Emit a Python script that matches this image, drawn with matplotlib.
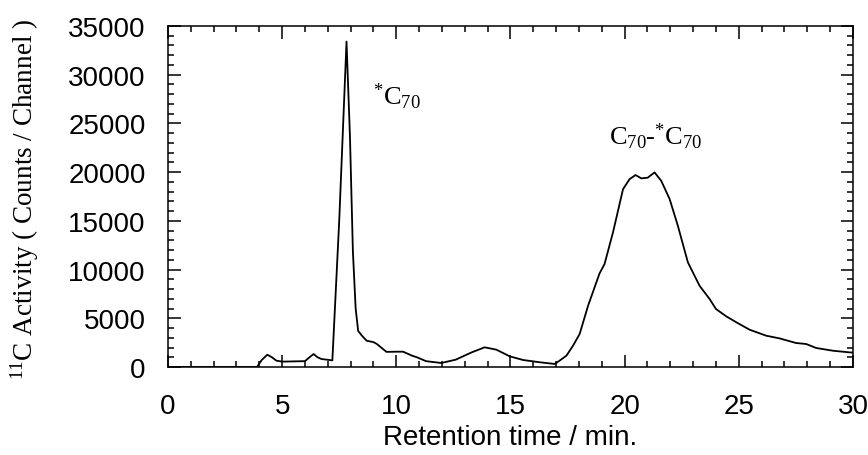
import matplotlib
matplotlib.use("Agg")
import matplotlib.pyplot as plt
from matplotlib.ticker import MultipleLocator

# retention time (min) and 11C activity (counts / channel)
time_min = [0.0, 3.9, 4.1, 4.35, 4.55, 4.75, 5.0, 6.0, 6.2, 6.38, 6.55, 6.72,
            7.2, 7.5, 7.82, 7.97, 8.1, 8.22, 8.33, 8.5, 8.7, 9.0, 9.15, 9.57,
            10.0, 10.3, 10.7, 10.9, 11.3, 11.97, 12.6, 13.3, 13.87, 14.38,
            14.97, 15.55, 16.3, 16.94, 17.15, 17.45, 17.74, 18.03, 18.4, 18.9,
            19.12, 19.49, 19.93, 20.22, 20.48, 20.73, 21.01, 21.31, 21.6,
            21.97, 22.33, 22.77, 23.28, 23.72, 24.0, 24.45, 24.89, 25.47,
            26.2, 26.78, 27.51, 27.95, 28.39, 29.12, 29.85, 30.0]
activity = [0, 0, 700, 1260, 1000, 650, 550, 600, 1000, 1330, 1000, 820,
            680, 15000, 33400, 23700, 11800, 6000, 3700, 3200, 2700, 2550,
            2360, 1550, 1570, 1570, 1150, 1000, 600, 410, 750, 1500, 2020, 1780,
            1090, 720, 480, 310, 650, 1160, 2190, 3390, 6300, 9600,
            10570, 13820, 18260, 19290, 19700, 19360, 19430, 19970, 19120,
            17240, 14500, 10740, 8340, 6980, 5950, 5200, 4590, 3830,
            3210, 2940, 2460, 2360, 1950, 1670, 1500, 1480]

x_ticks = [0, 5, 10, 15, 20, 25, 30]
y_ticks = [0, 5000, 10000, 15000, 20000, 25000, 30000, 35000]

plt.rcParams["font.family"] = "Liberation Sans"
plt.rcParams["mathtext.fontset"] = "custom"
plt.rcParams["mathtext.rm"] = "Liberation Serif"
plt.rcParams["mathtext.it"] = "Liberation Serif:italic"

fig = plt.figure(figsize=(8.68, 4.56), dpi=100)
ax = fig.add_axes([0.1935, 0.193, 0.7892, 0.7478])

ax.plot(time_min, activity, color="black", linewidth=1.3)

ax.set_xlim(0, 30)
ax.set_ylim(0, 35000)
ax.set_xticks(x_ticks)
ax.set_yticks(y_ticks)
ax.xaxis.set_minor_locator(MultipleLocator(1))
ax.yaxis.set_minor_locator(MultipleLocator(1000))
ax.tick_params(which="both", direction="in", top=True, right=True,
               width=1.1, labelsize=20)
ax.tick_params(which="major", length=9)
ax.tick_params(which="minor", length=4.5)
ax.tick_params(axis="x", which="major", pad=19)
ax.tick_params(axis="y", which="major", pad=16)
for spine in ax.spines.values():
    spine.set_linewidth(1.1)

ax.set_xlabel("Retention time / min.", fontsize=20, labelpad=3)
ax.set_ylabel(r"$^{11}$C Activity ( Counts / Channel )",
              family="Liberation Serif", fontsize=19.5)
ax.yaxis.set_label_coords(-0.185, 0.493)

ax.text(8.97, 27000, r"$^{*}$C$_{70}$", family="Liberation Serif",
        fontsize=19, va="baseline")
ax.text(19.3, 22900, r"C$_{70}$-$^{*}$C$_{70}$", family="Liberation Serif",
        fontsize=19, va="baseline")

fig.savefig("out.png", dpi=100)
